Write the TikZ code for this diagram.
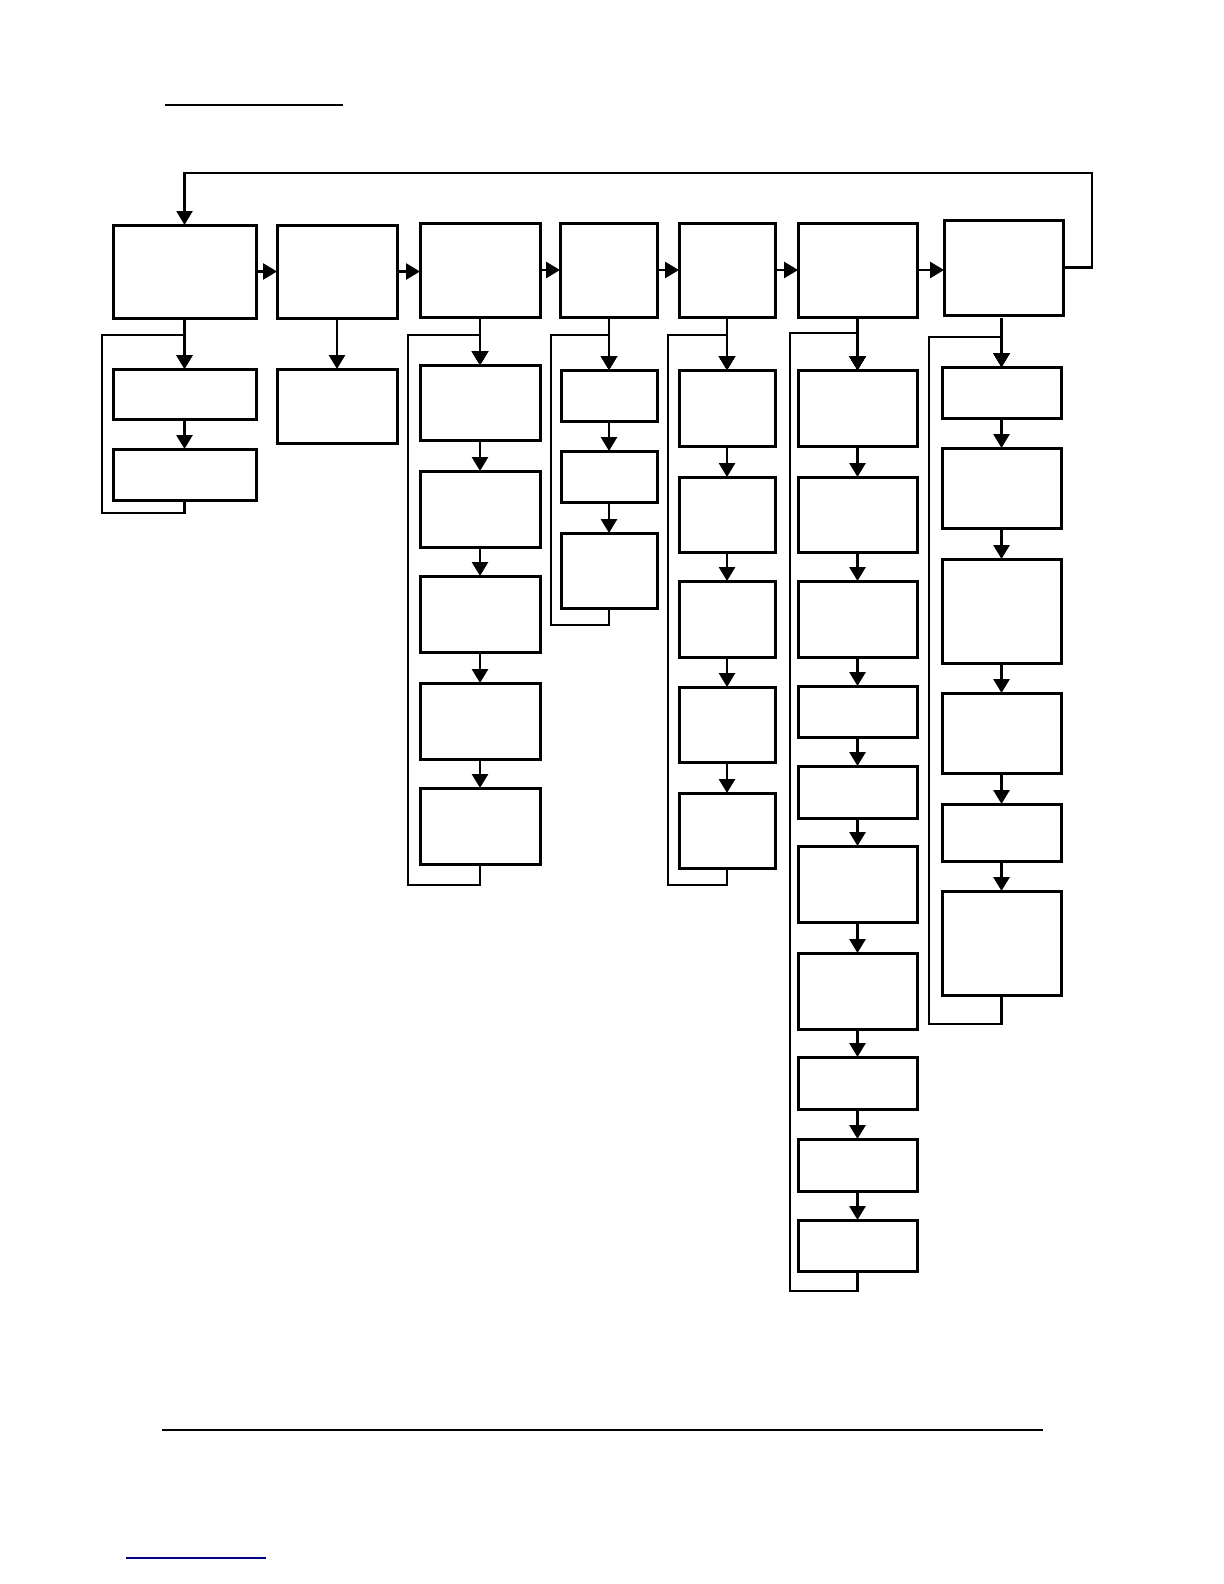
\documentclass[tikz,border=0pt]{standalone}
\usetikzlibrary{arrows.meta}
\tikzset{
  blk/.style={draw, line width=1.5pt, inner sep=0pt, outer sep=0pt},
  arr/.style={line width=1.4pt, -{Triangle[width=8pt,length=7pt]}},
  loopline/.style={line width=1.4pt},
}
% box from (x1,y1) to (x2,y2), pixel units
\newcommand{\blk}[5]{\node[blk, minimum width={(#4-#2)*0.5pt}, minimum height={(#5-#3)*0.5pt}] (#1) at ({(#2+#4)/2},{(#3+#5)/2}) {};}
\begin{document}
\begin{tikzpicture}[x=0.5pt,y=-0.5pt]
\useasboundingbox (0,0) rectangle (1224,1584);
\draw[line width=0.6pt] (165,105) -- (343,105);
\draw[line width=0.8pt] (162,1430) -- (1043,1430);
\draw[line width=0.8pt,blue!50!black] (126,1558) -- (266,1558);

% main row
\blk{t1}{113}{225}{256}{318}
\blk{t2}{277}{225}{397}{318}
\blk{t3}{420}{223}{540}{317}
\blk{t4}{560}{223}{657}{317}
\blk{t5}{679}{223}{775}{317}
\blk{t6}{798}{223}{917}{317}
\blk{t7}{944}{220}{1063}{315}
\foreach \a/\b in {t1/t2,t2/t3,t3/t4,t4/t5,t5/t6,t6/t7}
\draw[arr] (\a.east) -- (\a.east -| \b.west);
\coordinate (fb) at (1092,173);
\draw[arr, line width=1.1pt] (t7.east) -| (fb) -| (t1.north);

% column 1
\foreach \i/\ya/\yb in {1/369/419, 2/449/500}
\blk{c1-\i}{113}{\ya}{256}{\yb}
\draw[arr] (t1) -- (c1-1);
\draw[arr] (c1-1) -- (c1-2);
\coordinate (b1) at (102,335);
\draw[loopline] (c1-2.south) -- ++(0,13) -| (b1) -- (b1 -| t1.south);

% column 2
\blk{c2-1}{277}{369}{397}{443}
\draw[arr] (t2) -- (c2-1);

% column 3
\foreach \i/\ya/\yb in {1/365/440, 2/471/547, 3/576/652, 4/683/759, 5/788/864}
\blk{c3-\i}{420}{\ya}{540}{\yb}
\draw[arr] (t3) -- (c3-1);
\foreach \i [evaluate=\i as \j using int(\i+1)] in {1,...,4}
\draw[arr] (c3-\i) -- (c3-\j);
\coordinate (b3) at (408,335);
\draw[loopline] (c3-5.south) -- ++(0,21) -| (b3) -- (b3 -| t3.south);

% column 4
\foreach \i/\ya/\yb in {1/370/421, 2/451/502, 3/533/608}
\blk{c4-\i}{561}{\ya}{657}{\yb}
\draw[arr] (t4.south -| c4-1.north) -- (c4-1);
\foreach \i [evaluate=\i as \j using int(\i+1)] in {1,2}
\draw[arr] (c4-\i) -- (c4-\j);
\coordinate (b4) at (551,335);
\draw[loopline] (c4-3.south) -- ++(0,17) -| (b4) -- (b4 -| c4-1.north);

% column 5
\foreach \i/\ya/\yb in {1/370/446, 2/477/552, 3/581/657, 4/687/762, 5/793/868}
\blk{c5-\i}{679}{\ya}{775}{\yb}
\draw[arr] (t5) -- (c5-1);
\foreach \i [evaluate=\i as \j using int(\i+1)] in {1,...,4}
\draw[arr] (c5-\i) -- (c5-\j);
\coordinate (b5) at (668,335);
\draw[loopline] (c5-5.south) -- ++(0,17) -| (b5) -- (b5 -| t5.south);

% column 6
\foreach \i/\ya/\yb in {1/370/446, 2/477/552, 3/581/657, 4/686/737, 5/766/818,
  6/846/922, 7/953/1029, 8/1057/1109, 9/1139/1191, 10/1220/1271}
\blk{c6-\i}{798}{\ya}{917}{\yb}
\draw[arr] (t6) -- (c6-1);
\foreach \i [evaluate=\i as \j using int(\i+1)] in {1,...,9}
\draw[arr] (c6-\i) -- (c6-\j);
\coordinate (b6) at (790,333);
\draw[loopline] (c6-10.south) -- ++(0,20) -| (b6) -- (b6 -| t6.south);

% column 7
\foreach \i/\ya/\yb in {1/367/418, 2/448/528, 3/559/663, 4/693/773, 5/804/861, 6/891/995}
\blk{c7-\i}{942}{\ya}{1061}{\yb}
\draw[arr] ([yshift=-1.5pt]t7.south -| c7-1.north) -- (c7-1);
\foreach \i [evaluate=\i as \j using int(\i+1)] in {1,...,5}
\draw[arr] (c7-\i) -- (c7-\j);
\coordinate (b7) at (929,337);
\draw[loopline] (c7-6.south) -- ++(0,29) -| (b7) -- (b7 -| c7-1.north);
\end{tikzpicture}
\end{document}
